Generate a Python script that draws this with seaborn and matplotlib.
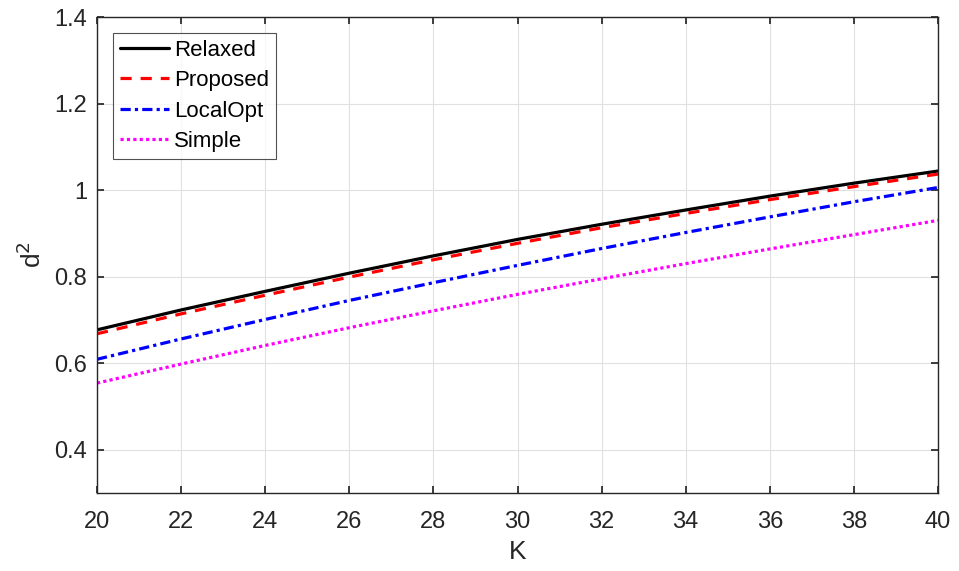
import numpy as np
import pandas as pd
import matplotlib
matplotlib.use("Agg")
import matplotlib.pyplot as plt
import seaborn as sns

K = [20, 22, 24, 26, 28, 30, 32, 34, 36, 38, 40]
relaxed = [0.677, 0.723, 0.766, 0.808, 0.848, 0.886, 0.921, 0.954, 0.986, 1.016, 1.044]
proposed = [0.668, 0.714, 0.757, 0.799, 0.839, 0.877, 0.913, 0.946, 0.978, 1.008, 1.037]
localopt = [0.609, 0.656, 0.701, 0.745, 0.786, 0.826, 0.865, 0.902, 0.938, 0.973, 1.006]
simple = [0.554, 0.598, 0.641, 0.682, 0.721, 0.759, 0.795, 0.830, 0.864, 0.897, 0.930]

series_names = ["Relaxed", "Proposed", "LocalOpt", "Simple"]
series_vals = [relaxed, proposed, localopt, simple]
colors = ["#000000", "#ff0000", "#0000ff", "#ff00ff"]
styles = ["-", (0, (3.5, 2.8)), (0, (3.2, 1.3, 1.0, 1.3)), (0, (1, 1))]

xticks = [20, 22, 24, 26, 28, 30, 32, 34, 36, 38, 40]
yticks = [0.4, 0.6, 0.8, 1.0, 1.2, 1.4]
ytick_labels = ["0.4", "0.6", "0.8", "1", "1.2", "1.4"]

sns.set_theme(style="white")
plt.rcParams['font.family'] = ['Liberation Sans', 'DejaVu Sans']

fig = plt.figure(figsize=(9.59, 5.71), dpi=100)
ax = fig.add_axes([97/959, 1 - 493/571, (938-97)/959, (493-17)/571])

for name, vals, c, ls in zip(series_names, series_vals, colors, styles):
    df = pd.DataFrame({"K": K, "d2": vals})
    sns.lineplot(data=df, x="K", y="d2", ax=ax, color=c, linewidth=2.3,
                 linestyle=ls, label=name)

ax.set_xlim(20, 40)
ax.set_ylim(0.3, 1.4)
ax.set_xticks(xticks)
ax.set_xticklabels([str(t) for t in xticks])
ax.set_yticks(yticks)
ax.set_yticklabels(ytick_labels)
ax.grid(True, color="#e0e0e0", linewidth=0.8)
ax.tick_params(axis="both", direction="in", length=5, labelsize=17,
               colors="#262626", top=True, right=True, bottom=True, left=True)
ax.tick_params(axis="x", pad=13)
ax.tick_params(axis="y", pad=7)
for sp in ax.spines.values():
    sp.set_visible(True)
    sp.set_color("#262626")
    sp.set_linewidth(1.0)

ax.set_xlabel("K", fontsize=19, color="#262626", labelpad=5)
ax.set_ylabel("d$^2$", fontsize=19, color="#262626", labelpad=6)

leg = ax.legend(loc="upper left", bbox_to_anchor=(0.019, 0.966), fontsize=16,
                frameon=True, fancybox=False, edgecolor="#262626",
                handlelength=2.2, handletextpad=0.25, labelspacing=0.42,
                borderpad=0.3, borderaxespad=0)
leg.get_frame().set_linewidth(0.8)
for t in leg.get_texts():
    t.set_color("#000000")

fig.savefig("out.png", dpi=100)
